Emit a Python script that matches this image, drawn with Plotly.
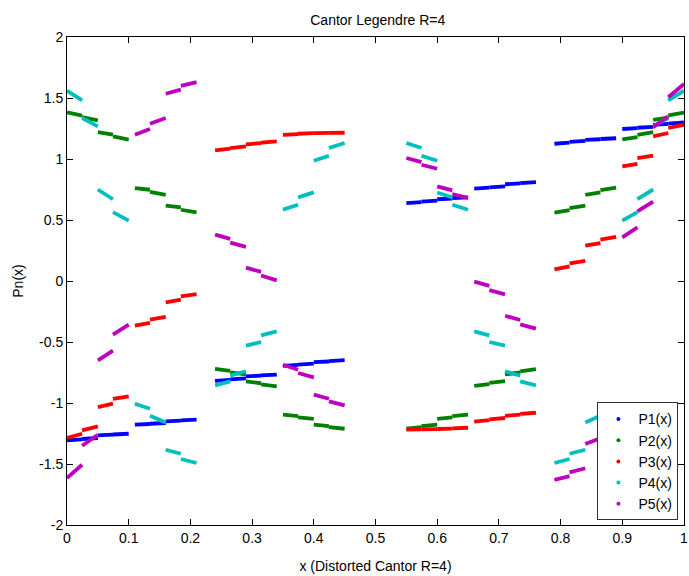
import plotly.graph_objects as go

# Sub-dash x extents (data units)
X0 = [0.000, 0.0245, 0.050, 0.0745, 0.110, 0.1345, 0.160, 0.1845,
      0.240, 0.2645, 0.290, 0.3145, 0.350, 0.3745, 0.400, 0.4245,
      0.550, 0.5745, 0.600, 0.6245, 0.660, 0.6845, 0.710, 0.7345,
      0.790, 0.8145, 0.840, 0.8645, 0.900, 0.9245, 0.950, 0.9745]
X1 = [0.0245, 0.050, 0.0745, 0.100, 0.1345, 0.160, 0.1845, 0.210,
      0.2645, 0.290, 0.3145, 0.340, 0.3745, 0.400, 0.4245, 0.450,
      0.5745, 0.600, 0.6245, 0.650, 0.6845, 0.710, 0.7345, 0.760,
      0.8145, 0.840, 0.8645, 0.890, 0.9245, 0.950, 0.9745, 1.000]

P1_start = [-1.307, -1.295, -1.266, -1.258, -1.178, -1.170, -1.150, -1.142,
            -0.818, -0.806, -0.782, -0.774, -0.695, -0.685, -0.665, -0.656,
            0.639, 0.650, 0.670, 0.679, 0.757, 0.768, 0.793, 0.802,
            1.125, 1.140, 1.156, 1.164, 1.246, 1.256, 1.280, 1.290]
P1_end = [-1.298, -1.287, -1.260, -1.252, -1.172, -1.164, -1.145, -1.137,
          -0.810, -0.798, -0.776, -0.768, -0.688, -0.678, -0.660, -0.648,
          0.646, 0.658, 0.676, 0.686, 0.765, 0.775, 0.800, 0.810,
          1.135, 1.148, 1.162, 1.170, 1.253, 1.264, 1.288, 1.300]

P2_start = [1.382, 1.344, 1.221, 1.185, 0.762, 0.730, 0.617, 0.584,
            -0.720, -0.748, -0.823, -0.848, -1.096, -1.118, -1.178, -1.198,
            -1.210, -1.190, -1.131, -1.108, -0.860, -0.835, -0.765, -0.740,
            0.560, 0.598, 0.705, 0.745, 1.160, 1.198, 1.320, 1.358]
P2_end = [1.355, 1.316, 1.199, 1.158, 0.748, 0.705, 0.603, 0.562,
          -0.737, -0.765, -0.838, -0.864, -1.108, -1.131, -1.190, -1.211,
          -1.198, -1.178, -1.118, -1.096, -0.845, -0.820, -0.750, -0.722,
          0.580, 0.618, 0.727, 0.765, 1.180, 1.220, 1.340, 1.380]

P3_start = [-1.287, -1.225, -1.033, -0.967, -0.366, -0.317, -0.175, -0.126,
            1.070, 1.090, 1.120, 1.135, 1.197, 1.207, 1.212, 1.214,
            -1.218, -1.216, -1.213, -1.208, -1.152, -1.134, -1.105, -1.090,
            0.095, 0.145, 0.289, 0.339, 0.939, 1.008, 1.186, 1.254]
P3_end = [-1.252, -1.192, -1.006, -0.946, -0.344, -0.295, -0.153, -0.107,
          1.085, 1.103, 1.130, 1.145, 1.204, 1.212, 1.214, 1.215,
          -1.217, -1.214, -1.210, -1.203, -1.140, -1.123, -1.095, -1.080,
          0.120, 0.165, 0.311, 0.361, 0.961, 1.027, 1.213, 1.281]

P4_start = [1.560, 1.336, 0.750, 0.565, -1.006, -1.104, -1.383, -1.459,
            -0.855, -0.775, -0.530, -0.446, 0.585, 0.685, 0.986, 1.090,
            1.131, 1.027, 0.726, 0.625, -0.413, -0.500, -0.740, -0.823,
            -1.492, -1.416, -1.159, -1.047, 0.495, 0.672, 1.267, 1.480]
P4_end = [1.480, 1.267, 0.670, 0.495, -1.047, -1.159, -1.416, -1.492,
          -0.823, -0.740, -0.500, -0.413, 0.625, 0.726, 1.027, 1.131,
          1.090, 0.986, 0.685, 0.584, -0.446, -0.530, -0.775, -0.855,
          -1.459, -1.383, -1.104, -1.006, 0.565, 0.750, 1.336, 1.560]

P5_start = [-1.615, -1.350, -0.651, -0.440, 1.199, 1.289, 1.535, 1.600,
            0.380, 0.315, 0.110, 0.045, -0.686, -0.754, -0.932, -0.987,
            1.008, 0.953, 0.775, 0.713, -0.005, -0.075, -0.285, -0.355,
            -1.630, -1.568, -1.336, -1.246, 0.358, 0.571, 1.260, 1.506]
P5_end = [-1.506, -1.260, -0.571, -0.358, 1.246, 1.336, 1.568, 1.630,
          0.345, 0.280, 0.075, 0.005, -0.727, -0.790, -0.965, -1.020,
          0.975, 0.920, 0.743, 0.680, -0.040, -0.110, -0.320, -0.390,
          -1.600, -1.535, -1.289, -1.199, 0.440, 0.651, 1.350, 1.615]

SERIES = ["P1(x)", "P2(x)", "P3(x)", "P4(x)", "P5(x)"]
STARTS = [P1_start, P2_start, P3_start, P4_start, P5_start]
ENDS = [P1_end, P2_end, P3_end, P4_end, P5_end]
COLORS = ["#0000ff", "#008000", "#ff0000", "#00bfbf", "#bf00bf"]

X_TICKS = [0, 0.1, 0.2, 0.3, 0.4, 0.5, 0.6, 0.7, 0.8, 0.9, 1]
X_TICKTEXT = ["0", "0.1", "0.2", "0.3", "0.4", "0.5", "0.6", "0.7", "0.8", "0.9", "1"]
Y_TICKS = [-2, -1.5, -1, -0.5, 0, 0.5, 1, 1.5, 2]
Y_TICKTEXT = ["-2", "-1.5", "-1", "-0.5", "0", "0.5", "1", "1.5", "2"]

FONT = "Liberation Sans, Arial, sans-serif"
FS = 14

fig = go.Figure()
for name, s, e, c in zip(SERIES, STARTS, ENDS, COLORS):
    xs, ys = [], []
    for a, b, ya, yb in zip(X0, X1, s, e):
        xs += [a, b, None]
        ys += [ya, yb, None]
    fig.add_trace(go.Scatter(x=xs, y=ys, mode="lines",
                             line=dict(color=c, width=3.8),
                             showlegend=False, hoverinfo="skip"))
for name, c in zip(SERIES, COLORS):
    fig.add_trace(go.Scatter(x=[None], y=[None], mode="markers", name=name,
                             marker=dict(color=c, size=4)))

axis_common = dict(showgrid=False, zeroline=False, showline=True, linecolor="black",
                   linewidth=1, mirror="ticks", ticks="inside", ticklen=6,
                   tickcolor="black", ticklabeloverflow="allow",
                   tickfont=dict(family=FONT, size=FS, color="black"))

fig.update_layout(
    width=689, height=576,
    margin=dict(l=67, r=1, t=37, b=51),
    paper_bgcolor="white", plot_bgcolor="white",
    font=dict(family=FONT, size=FS, color="black"),
    title=dict(text="Cantor Legendre R=4", x=0.5483, xanchor="center",
               y=1 - 20 / 576, yanchor="middle",
               font=dict(family=FONT, size=FS, color="black")),
    xaxis=dict(range=[0, 1], tickvals=X_TICKS, ticktext=X_TICKTEXT,
               title=dict(text="x (Distorted Cantor R=4)", standoff=16,
                          font=dict(family=FONT, size=FS)), **axis_common),
    yaxis=dict(range=[-2, 2], tickvals=Y_TICKS, ticktext=Y_TICKTEXT,
               title=dict(text="Pn(x)", standoff=12,
                          font=dict(family=FONT, size=FS)), **axis_common),
    legend=dict(x=0.991, y=0.0094, xanchor="right", yanchor="bottom",
                bgcolor="white", bordercolor="#333333", borderwidth=1,
                font=dict(family=FONT, size=FS), tracegroupgap=0,
                itemwidth=30),
)

fig.write_html("out.html")
